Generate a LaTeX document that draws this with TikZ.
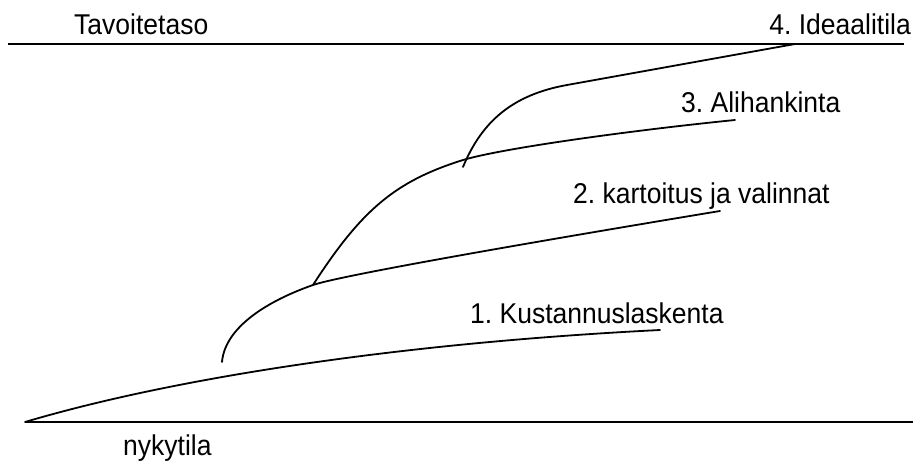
\documentclass[tikz,border=0pt]{standalone}
\usepackage{fontspec}
\setmainfont{Liberation Sans}
\frenchspacing
\newcommand{\tallText}[1]{\scalebox{1}[1.08]{#1}}
\begin{document}
\begin{tikzpicture}[x=1pt,y=-1pt,
  curve/.style={draw=black,line width=1.8pt,line cap=round},
  level/.style={draw=black,line width=1.8pt},
  label/.style={inner sep=0pt,font=\fontsize{26.5}{30}\selectfont,text=black}]
\useasboundingbox[fill=white] (0,0) rectangle (913,461);

% levels: target (top) and current state (bottom)
\coordinate (topL) at (8,44);
\coordinate (topR) at (904,44);
\coordinate (botL) at (25,422);
\coordinate (botR) at (913,422);
\draw[level] (topL) -- (topR);
\draw[level] (botL) -- (botR);
\coordinate (thickA) at (645,44);
\coordinate (thickB) at (690,44);
\draw[line width=2.6pt] (thickA) -- (thickB);

% branch points
\coordinate (b2) at (222,362);
\coordinate (b3) at (313,285);
\coordinate (b4) at (463,167);
\coordinate (j3) at (463,160);
\coordinate (k4) at (567,85);
\coordinate (e1) at (660,330);
\coordinate (e2) at (720,211);
\coordinate (e3) at (735,120);
\coordinate (e4) at (795,44);

% 1. cost accounting
\draw[curve] (botL) .. controls (180,376) and (410,342.5) .. (e1);
% 2. mapping and choices
\draw[curve] (b2) .. controls (225,327) and (268,300.75) .. (b3)
             .. controls (343,274.5) and (570,235.8) .. (e2);
% 3. subcontracting
\draw[curve] (b3) .. controls (362,209) and (396,181) .. (j3)
             .. controls (503,148) and (635,130) .. (e3);
% 4. ideal state
\draw[curve] (b4) .. controls (482,121) and (513,94.7) .. (k4) -- (e4);

% labels
\node[label,anchor=base west] (tavoite) at (74,34) {\tallText{Tavoitetaso}};
\node[label,anchor=base east] (idea) at (911,34) {\tallText{4. Ideaalitila}};
\node[label,anchor=base west] (ali) at (681,112) {\tallText{3. Alihankinta}};
\node[label,anchor=base west] (kart) at (573,203) {\tallText{2. kartoitus ja valinnat}};
\node[label,anchor=base west] (kust) at (470,323) {\tallText{1. Kustannuslaskenta}};
\node[label,anchor=base west] (nyky) at (123,455) {\tallText{nykytila}};
\end{tikzpicture}
\end{document}
